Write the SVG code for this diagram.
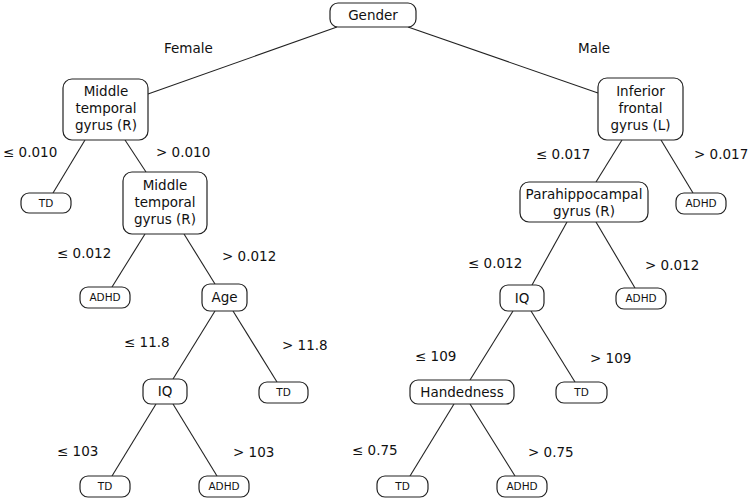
<svg xmlns="http://www.w3.org/2000/svg" width="750" height="500" viewBox="0 0 750 500">
<style>
.b{fill:#fff;stroke:#222;stroke-width:1.2}
.t{font-family:"DejaVu Sans",Verdana,sans-serif;font-size:13.5px;fill:#111;text-anchor:middle}
.s{font-family:"DejaVu Sans",Verdana,sans-serif;font-size:10.5px;fill:#111;text-anchor:middle}
.l{font-family:"DejaVu Sans",Verdana,sans-serif;font-size:13.5px;fill:#111}
.c{stroke:#222;stroke-width:1.1;fill:none}
</style>
<rect width="750" height="500" fill="#fff"/>
<g id="connectors">
<line class="c" x1="337" y1="27" x2="148" y2="94"/>
<line class="c" x1="408" y1="27" x2="598" y2="93"/>
<line class="c" x1="85" y1="140" x2="53" y2="193"/>
<line class="c" x1="125" y1="140" x2="146" y2="172"/>
<line class="c" x1="145" y1="234" x2="112" y2="287"/>
<line class="c" x1="184" y1="234" x2="215" y2="284"/>
<line class="c" x1="215" y1="311" x2="173" y2="379"/>
<line class="c" x1="233" y1="311" x2="277" y2="382"/>
<line class="c" x1="156" y1="404" x2="112" y2="476"/>
<line class="c" x1="173" y1="404" x2="217" y2="476"/>
<line class="c" x1="622" y1="140" x2="596" y2="182"/>
<line class="c" x1="661" y1="140" x2="693" y2="193"/>
<line class="c" x1="567" y1="222" x2="532" y2="285"/>
<line class="c" x1="596" y1="222" x2="635" y2="288"/>
<line class="c" x1="513" y1="311" x2="470" y2="380"/>
<line class="c" x1="531" y1="311" x2="575" y2="382"/>
<line class="c" x1="454" y1="404" x2="410" y2="476"/>
<line class="c" x1="470" y1="404" x2="515" y2="476"/>
</g>
<g id="edge-labels">
<text class="l" x="164" y="53">Female</text>
<text class="l" x="578" y="53">Male</text>
<text class="l" x="3" y="157">≤ 0.010</text>
<text class="l" x="156" y="157">&gt; 0.010</text>
<text class="l" x="57" y="258">≤ 0.012</text>
<text class="l" x="222" y="261">&gt; 0.012</text>
<text class="l" x="124" y="347">≤ 11.8</text>
<text class="l" x="282" y="350">&gt; 11.8</text>
<text class="l" x="57" y="456">≤ 103</text>
<text class="l" x="233" y="457">&gt; 103</text>
<text class="l" x="536" y="159">≤ 0.017</text>
<text class="l" x="694" y="159">&gt; 0.017</text>
<text class="l" x="468" y="268">≤ 0.012</text>
<text class="l" x="645" y="270">&gt; 0.012</text>
<text class="l" x="415" y="361">≤ 109</text>
<text class="l" x="590" y="363">&gt; 109</text>
<text class="l" x="352" y="455">≤ 0.75</text>
<text class="l" x="528" y="457">&gt; 0.75</text>
</g>
<g id="gender"><rect class="b" x="330" y="3" width="86" height="24" rx="8"/><text class="t" x="373" y="20">Gender</text></g>
<g id="mtg1"><rect class="b" x="63" y="79" width="85" height="61" rx="9"/><text class="t" x="106" y="96">Middle</text><text class="t" x="106" y="113">temporal</text><text class="t" x="106" y="130">gyrus (R)</text></g>
<g id="td1"><rect class="b" x="21" y="193" width="50" height="20" rx="8"/><text class="s" x="46" y="207">TD</text></g>
<g id="mtg2"><rect class="b" x="123" y="172" width="84" height="62" rx="9"/><text class="t" x="165" y="190">Middle</text><text class="t" x="165" y="207">temporal</text><text class="t" x="165" y="224">gyrus (R)</text></g>
<g id="adhd1"><rect class="b" x="80" y="287" width="50" height="21" rx="8"/><text class="s" x="105" y="301">ADHD</text></g>
<g id="age"><rect class="b" x="202" y="284" width="45" height="27" rx="8"/><text class="t" x="224.500" y="302">Age</text></g>
<g id="iq1"><rect class="b" x="143" y="379" width="44" height="25" rx="8"/><text class="t" x="165" y="396">IQ</text></g>
<g id="td2"><rect class="b" x="259" y="382" width="49" height="21" rx="8"/><text class="s" x="283.500" y="396">TD</text></g>
<g id="td3"><rect class="b" x="80" y="476" width="50" height="21" rx="8"/><text class="s" x="105" y="490">TD</text></g>
<g id="adhd2"><rect class="b" x="199" y="476" width="50" height="21" rx="8"/><text class="s" x="224" y="490">ADHD</text></g>
<g id="ifg"><rect class="b" x="598" y="78" width="85" height="62" rx="9"/><text class="t" x="640.500" y="96">Inferior</text><text class="t" x="640.500" y="113">frontal</text><text class="t" x="640.500" y="130">gyrus (L)</text></g>
<g id="adhd3"><rect class="b" x="676" y="193" width="50" height="21" rx="8"/><text class="s" x="701" y="207">ADHD</text></g>
<g id="phg"><rect class="b" x="520" y="182" width="128" height="40" rx="9"/><text class="t" x="584" y="199">Parahippocampal</text><text class="t" x="584" y="216">gyrus (R)</text></g>
<g id="iq2"><rect class="b" x="500" y="285" width="44" height="26" rx="8"/><text class="t" x="522" y="303">IQ</text></g>
<g id="adhd4"><rect class="b" x="616" y="288" width="50" height="21" rx="8"/><text class="s" x="641" y="302">ADHD</text></g>
<g id="hand"><rect class="b" x="410" y="380" width="104" height="24" rx="8"/><text class="t" x="462" y="397">Handedness</text></g>
<g id="td4"><rect class="b" x="556" y="382" width="51" height="21" rx="8"/><text class="s" x="581.500" y="396">TD</text></g>
<g id="td5"><rect class="b" x="377" y="476" width="51" height="21" rx="8"/><text class="s" x="402.500" y="490">TD</text></g>
<g id="adhd5"><rect class="b" x="497" y="476" width="50" height="21" rx="8"/><text class="s" x="522" y="490">ADHD</text></g>
</svg>
